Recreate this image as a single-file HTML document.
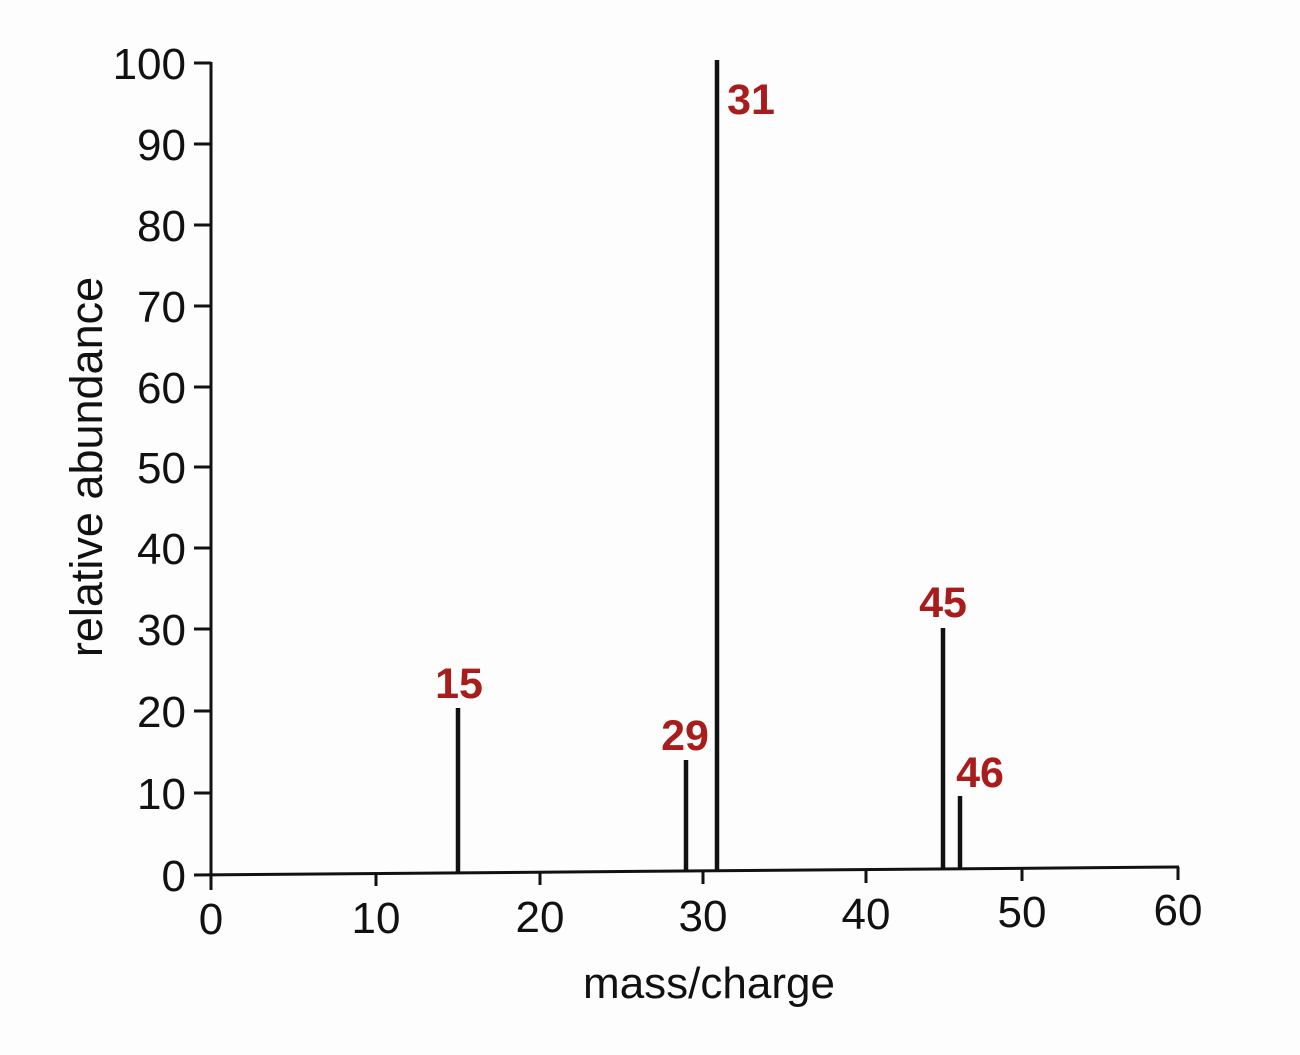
<!DOCTYPE html>
<html><head><style>body{margin:0;background:#fff}svg{display:block}</style></head><body>
<svg width="1300" height="1055" viewBox="0 0 1300 1055" xmlns="http://www.w3.org/2000/svg">
<rect width="1300" height="1055" fill="#fdfdfd"/>
<g stroke="#111" stroke-width="3" fill="none">
<line x1="211" y1="62" x2="211" y2="880"/>
<line x1="194" y1="875" x2="1179" y2="867"/>
<line x1="194" y1="63" x2="211" y2="63"/>
<line x1="194" y1="144" x2="211" y2="144"/>
<line x1="194" y1="225" x2="211" y2="225"/>
<line x1="194" y1="306" x2="211" y2="306"/>
<line x1="194" y1="387" x2="211" y2="387"/>
<line x1="194" y1="467" x2="211" y2="467"/>
<line x1="194" y1="548" x2="211" y2="548"/>
<line x1="194" y1="629" x2="211" y2="629"/>
<line x1="194" y1="711" x2="211" y2="711"/>
<line x1="194" y1="793" x2="211" y2="793"/>
<line x1="211" y1="874" x2="211" y2="890"/>
<line x1="376" y1="873" x2="376" y2="886"/>
<line x1="540" y1="872" x2="540" y2="885"/>
<line x1="703" y1="871" x2="703" y2="884"/>
<line x1="866" y1="870" x2="866" y2="883"/>
<line x1="1022" y1="868" x2="1022" y2="881"/>
<line x1="1178" y1="867" x2="1178" y2="880"/>
</g>
<g stroke="#111" stroke-width="4.5">
<line x1="458" y1="708" x2="458" y2="873"/>
<line x1="686" y1="760" x2="686" y2="871"/>
<line x1="717" y1="60" x2="717" y2="871"/>
<line x1="943" y1="628" x2="943" y2="869"/>
<line x1="960" y1="796" x2="960" y2="869"/>
</g>
<g font-family="Liberation Sans, sans-serif" font-size="44" fill="#111" text-anchor="end">
<text x="186" y="79">100</text>
<text x="186" y="160">90</text>
<text x="186" y="241">80</text>
<text x="186" y="322">70</text>
<text x="186" y="403">60</text>
<text x="186" y="483">50</text>
<text x="186" y="564">40</text>
<text x="186" y="645">30</text>
<text x="186" y="727">20</text>
<text x="186" y="809">10</text>
<text x="186" y="891">0</text>
</g>
<g font-family="Liberation Sans, sans-serif" font-size="44" fill="#111" text-anchor="middle">
<text x="211" y="934">0</text>
<text x="376" y="933">10</text>
<text x="540" y="932">20</text>
<text x="703" y="931">30</text>
<text x="866" y="929">40</text>
<text x="1022" y="927">50</text>
<text x="1178" y="925">60</text>
<text x="709" y="998" font-size="44">mass/charge</text>
<text transform="translate(102,467) rotate(-90)" font-size="45">relative abundance</text>
</g>
<g font-family="Liberation Sans, sans-serif" font-size="43" font-weight="bold" fill="#a81c1c" text-anchor="middle">
<text x="459" y="698">15</text>
<text x="685" y="750">29</text>
<text x="751" y="114">31</text>
<text x="943" y="617">45</text>
<text x="980" y="787">46</text>
</g>
</svg>
</body></html>
